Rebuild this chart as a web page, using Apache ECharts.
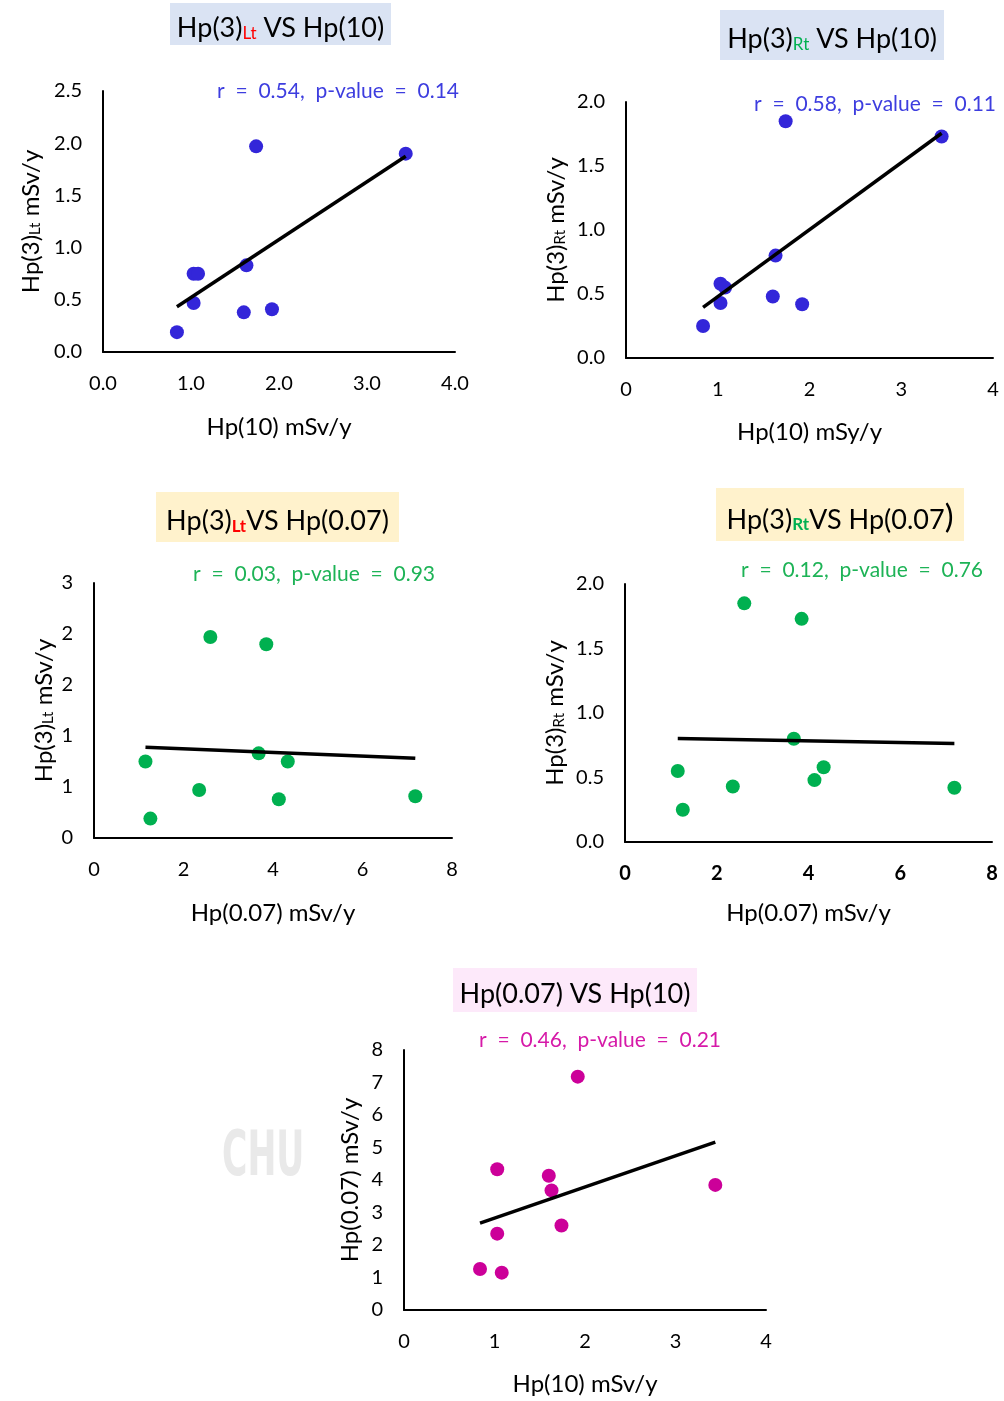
<!DOCTYPE html>
<html>
<head>
<meta charset="utf-8">
<script src="https://cdn.jsdelivr.net/npm/echarts@6/dist/echarts.min.js"></script>
<style>
  html, body { margin: 0; padding: 0; background: #fff; }
  #chart_main { width: 1004px; height: 1401px; }
</style>
</head>
<body>
<div id="chart_main"></div>
<script>
// values, one entry per subject
var hp10  = [0.84, 1.03, 1.03, 1.08, 1.60, 1.63, 1.74, 1.92, 3.44];
var hp007 = [1.26, 2.35, 4.33, 1.15, 4.13, 3.68, 2.60, 7.18, 3.85];
var hp3Lt = [0.19, 0.47, 0.75, 0.75, 0.38, 0.83, 1.97, 0.41, 1.90];
var hp3Rt = [0.25, 0.43, 0.58, 0.55, 0.48, 0.80, 1.85, 0.42, 1.73];

var statTexts = [
    'r  =  0.54,  p-value  =  0.14',
    'r  =  0.58,  p-value  =  0.11',
    'r  =  0.03,  p-value  =  0.93',
    'r  =  0.12,  p-value  =  0.76',
    'r  =  0.46,  p-value  =  0.21'
];

var FONT = 'Lato, "Open Sans", sans-serif';
var BLUE = '#3326d9', GREEN = '#00b050', MAGENTA = '#cc0099';

function pairs(xs, ys) {
    return xs.map(function (x, i) { return [x, ys[i]]; });
}

// least squares line between the smallest and largest x
function trend(xs, ys) {
    var n = xs.length, mx = 0, my = 0, sxy = 0, sxx = 0;
    for (var i = 0; i < n; i++) { mx += xs[i]; my += ys[i]; }
    mx /= n; my /= n;
    for (var i = 0; i < n; i++) {
        sxy += (xs[i] - mx) * (ys[i] - my);
        sxx += (xs[i] - mx) * (xs[i] - mx);
    }
    var b = sxy / sxx, a = my - b * mx;
    var x0 = Math.min.apply(null, xs), x1 = Math.max.apply(null, xs);
    return [[x0, a + b * x0], [x1, a + b * x1]];
}

var richBase = {
    a: { fontSize: 24, fontFamily: FONT, color: '#000', lineHeight: 32, verticalAlign: 'bottom' },
    lt: { fontSize: 15, fontFamily: FONT, color: '#000', lineHeight: 15, verticalAlign: 'bottom' }
};
function sub(c, bold) {
    return { fontSize: 17, fontFamily: FONT, fill: c, fontWeight: bold ? 'bold' : 'normal', lineHeight: 15, verticalAlign: 'bottom' };
}
var richTitle = {
    a: { fontSize: 27, fontFamily: FONT, fill: '#000', lineHeight: 36, verticalAlign: 'bottom' },
    red: sub('#ff0000'),
    redb: sub('#ff0000', true),
    grn: sub('#00b050'),
    grnb: sub('#00b050', true),
    big: { fontSize: 33, fontFamily: FONT, fill: '#000', lineHeight: 38, verticalAlign: 'bottom' }
};

var plots = [
    { grid: { left: 103, top: 91, width: 352, height: 261 },
      xs: hp10, ys: hp3Lt, color: BLUE, statColor: '#3d3ddf',
      xMax: 4, xInt: 1, yMax: 2.5, yInt: 0.5, xFmt: 1, yFmt: 1,
      xName: 'Hp(10) mSv/y', yName: '{a|Hp(3)}{lt|Lt}{a| mSv/y}', xGap: 63, yGap: 60,
      box: [170, 3, 221, 42], boxColor: '#dae3f3', title: '{a|Hp(3)}{red|Lt}{a| VS Hp(10)}',
      stat: [459, 91] },
    { grid: { left: 626, top: 102, width: 367, height: 256 },
      xs: hp10, ys: hp3Rt, color: BLUE, statColor: '#3d3ddf',
      xMax: 4, xInt: 1, yMax: 2, yInt: 0.5, xFmt: 0, yFmt: 1,
      xName: 'Hp(10) mSy/y', yName: '{a|Hp(3)}{lt|Rt}{a| mSv/y}', xGap: 62, yGap: 58,
      box: [720, 10, 224, 50], boxColor: '#dae3f3', title: '{a|Hp(3)}{grn|Rt}{a| VS Hp(10)}',
      stat: [996, 104] },
    { grid: { left: 94, top: 583, width: 358, height: 255 },
      xs: hp007, ys: hp3Lt, color: GREEN, statColor: '#1db356',
      xMax: 8, xInt: 2, yMax: 2.5, yInt: 0.5, xFmt: 0, yFmt: 0,
      xName: 'Hp(0.07) mSv/y', yName: '{a|Hp(3)}{lt|Lt}{a| mSv/y}', xGap: 63, yGap: 38,
      box: [156, 492, 243, 50], boxColor: '#fff2cc', title: '{a|Hp(3)}{redb|Lt}{a|VS Hp(0.07)}',
      stat: [435, 574] },
    { grid: { left: 625, top: 584, width: 367, height: 258 },
      xs: hp007, ys: hp3Rt, color: GREEN, statColor: '#1db356',
      xMax: 8, xInt: 2, yMax: 2, yInt: 0.5, xFmt: 0, yFmt: 1, xBold: true,
      xName: 'Hp(0.07) mSv/y', yName: '{a|Hp(3)}{lt|Rt}{a| mSv/y}', xGap: 59, yGap: 58,
      box: [716, 488, 248, 53], boxColor: '#fff2cc', title: '{a|Hp(3)}{grnb|Rt}{a|VS Hp(0.07}{big|)}',
      stat: [983, 570] },
    { grid: { left: 404, top: 1050, width: 362, height: 260 },
      xs: hp10, ys: hp007, color: MAGENTA, statColor: '#d619a8',
      xMax: 4, xInt: 1, yMax: 8, yInt: 1, xFmt: 0, yFmt: 0,
      xName: 'Hp(10) mSv/y', yName: '{a|Hp(0.07) mSv/y}', xGap: 62, yGap: 42,
      box: [453, 968, 244, 44], boxColor: '#fde9fa', title: '{a|Hp(0.07) VS Hp(10)}',
      stat: [721, 1040] }
];

var grids = [], xAxes = [], yAxes = [], series = [], graphics = [];

// faint watermark left over in the source picture
graphics.push({
    type: 'text', z: 0, x: 222, y: 1128, scaleX: 0.62,
    style: { text: 'CHU', font: 'bold 62px "Liberation Sans Narrow", "DejaVu Sans Condensed", sans-serif', fill: '#e9e9e9' }
});

plots.forEach(function (p, i) {
    grids.push(p.grid);
    var lbl = { color: '#000', fontSize: 20, fontFamily: FONT };
    xAxes.push({
        gridIndex: i, type: 'value', min: 0, max: p.xMax, interval: p.xInt,
        splitLine: { show: false }, axisTick: { show: false },
        axisLine: { lineStyle: { color: '#000', width: 2 } },
        axisLabel: Object.assign({}, lbl, {
            margin: 22, fontWeight: p.xBold ? 'bold' : 'normal',
            formatter: (function (d) { return function (v) { return v.toFixed(d); }; })(p.xFmt)
        }),
        name: p.xName, nameLocation: 'middle', nameGap: p.xGap,
        nameTextStyle: { color: '#000', fontSize: 24, fontFamily: FONT }
    });
    yAxes.push({
        gridIndex: i, type: 'value', min: 0, max: p.yMax, interval: p.yInt,
        splitLine: { show: false }, axisTick: { show: false },
        axisLine: { lineStyle: { color: '#000', width: 2 } },
        axisLabel: Object.assign({}, lbl, {
            margin: 21,
            formatter: (function (d) {
                return function (v) { return d ? v.toFixed(d) : String(Math.round(v)); };
            })(p.yFmt)
        }),
        name: p.yName, nameLocation: 'middle', nameGap: p.yGap, nameRotate: 90,
        nameTextStyle: { rich: richBase }
    });
    series.push({
        type: 'scatter', xAxisIndex: i, yAxisIndex: i, symbolSize: 14,
        itemStyle: { color: p.color, opacity: 1 },
        data: pairs(p.xs, p.ys), z: 3
    });
    series.push({
        type: 'line', xAxisIndex: i, yAxisIndex: i, symbol: 'none', silent: true,
        lineStyle: { color: '#000', width: 3.5 },
        data: trend(p.xs, p.ys), z: 4
    });
    graphics.push({
        type: 'rect', z: 1,
        shape: { x: p.box[0], y: p.box[1], width: p.box[2], height: p.box[3] },
        style: { fill: p.boxColor }
    });
    graphics.push({
        type: 'text', z: 2,
        x: p.box[0] + p.box[2] / 2, y: p.box[1] + p.box[3] / 2,
        style: { text: p.title, rich: richTitle, align: 'center', verticalAlign: 'middle' }
    });
    graphics.push({
        type: 'text', z: 2, x: p.stat[0], y: p.stat[1],
        style: { text: statTexts[i], font: '21px ' + FONT, fill: p.statColor, align: 'right', verticalAlign: 'middle' }
    });
});

var myChart = echarts.init(document.getElementById('chart_main'));
myChart.setOption({
    backgroundColor: '#fff',
    animation: false,
    grid: grids,
    xAxis: xAxes,
    yAxis: yAxes,
    series: series,
    graphic: graphics
});
</script>
</body>
</html>
